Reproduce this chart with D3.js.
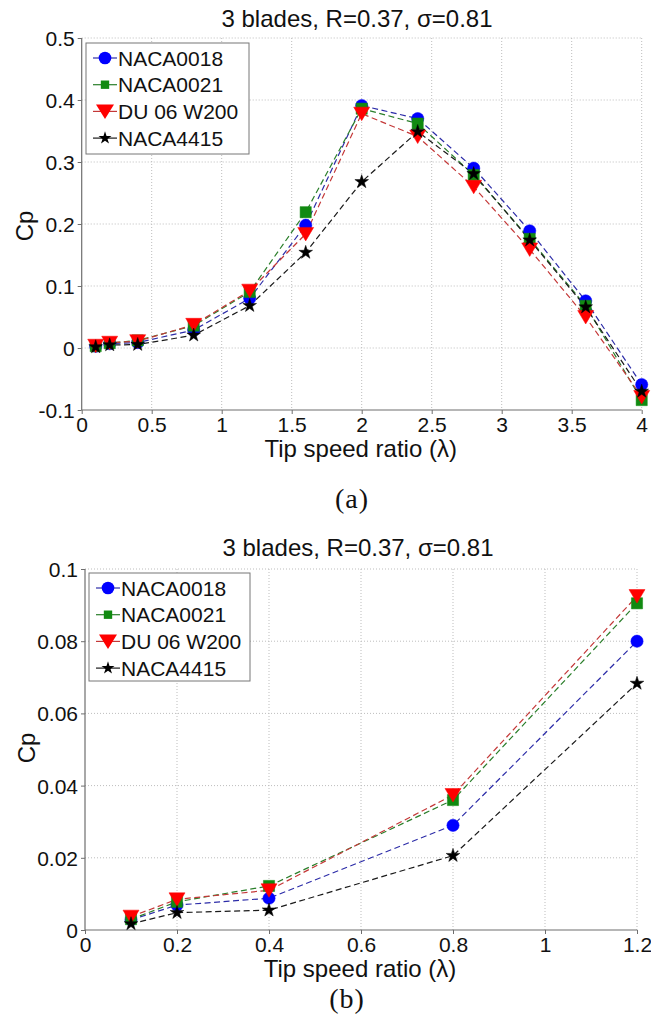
<!DOCTYPE html>
<html>
<head>
<meta charset="utf-8">
<script src="https://cdn.jsdelivr.net/npm/d3@7"></script>
<style>
  html, body { margin: 0; padding: 0; background: #fff; }
  svg { display: block; }
</style>
</head>
<body>
<svg id="chart" width="651" height="1034"></svg>
<script>
// ---- data ----
const tsr      = [0.1, 0.2, 0.4, 0.8, 1.2, 1.6, 2.0, 2.4, 2.8, 3.2, 3.6, 4.0];
const naca0018 = [0.0028, 0.0069, 0.0088, 0.029, 0.080, 0.198, 0.391, 0.370, 0.290, 0.189, 0.076, -0.059];
const naca0021 = [0.0030, 0.0078, 0.0122, 0.036, 0.0905, 0.219, 0.386, 0.362, 0.279, 0.176, 0.068, -0.084];
const du06w200 = [0.0037, 0.0085, 0.0110, 0.0374, 0.0925, 0.184, 0.378, 0.341, 0.260, 0.159, 0.050, -0.079];
const naca4415 = [0.0017, 0.0048, 0.0055, 0.0206, 0.0683, 0.154, 0.268, 0.349, 0.281, 0.174, 0.066, -0.070];

const seriesNames = ["NACA0018", "NACA0021", "DU 06 W200", "NACA4415"];
const seriesValues = [naca0018, naca0021, du06w200, naca4415];
const seriesMarkers = ["circle", "square", "triangle", "star"];
const markerColors = ["#0000ff", "#118a11", "#ff0000", "#000000"];
const lineColors = ["#2c2ca8", "#2a7e2a", "#c43838", "#1a1a1a"];

const titleText = "3 blades, R=0.37, \u03c3=0.81";
const xLabelText = "Tip speed ratio (\u03bb)";
const yLabelText = "Cp";

const xTicksA = [0, 0.5, 1, 1.5, 2, 2.5, 3, 3.5, 4];
const yTicksA = [-0.1, 0, 0.1, 0.2, 0.3, 0.4, 0.5];
const xTicksB = [0, 0.2, 0.4, 0.6, 0.8, 1, 1.2];
const yTicksB = [0, 0.02, 0.04, 0.06, 0.08, 0.1];

const SANS = "'Liberation Sans', Arial, Helvetica, sans-serif";
const SERIF = "'Liberation Serif', 'DejaVu Serif', serif";

const svg = d3.select("#chart");

function markerPath(type, legend) {
  if (type === "circle") return d3.symbol().type(d3.symbolCircle).size(legend ? 125 : 118)();
  if (type === "square") return d3.symbol().type(d3.symbolSquare).size(legend ? 70 : 125)();
  if (type === "star") return d3.symbol().type(d3.symbolStar).size(legend ? 52 : 58)();
  // downward triangle
  const w = legend ? 9 : 8, h = legend ? 7 : 6.5;
  return `M${-w},${-h}L${w},${-h}L0,${h + 0.5}Z`;
}

function drawChart(cfg) {
  const g = svg.append("g");
  const x = d3.scaleLinear().domain(cfg.xDomain).range([cfg.left, cfg.right]);
  const y = d3.scaleLinear().domain(cfg.yDomain).range([cfg.bottom, cfg.top]);

  // grid
  g.append("g").selectAll("line").data(cfg.xTicks.filter(d => d !== cfg.xDomain[0])).join("line")
    .attr("x1", d => x(d)).attr("x2", d => x(d)).attr("y1", cfg.top).attr("y2", cfg.bottom)
    .attr("stroke", "#bdbdbd").attr("stroke-width", 1).attr("stroke-dasharray", "1,2");
  g.append("g").selectAll("line").data(cfg.yTicks.filter(d => d !== cfg.yDomain[0])).join("line")
    .attr("x1", cfg.left).attr("x2", cfg.right).attr("y1", d => y(d)).attr("y2", d => y(d))
    .attr("stroke", "#bdbdbd").attr("stroke-width", 1).attr("stroke-dasharray", "1,2");

  // axes
  const xAxis = d3.axisBottom(x).tickValues(cfg.xTicks).tickSize(4).tickPadding(3)
    .tickFormat(d => cfg.xFmt(d));
  const yAxis = d3.axisLeft(y).tickValues(cfg.yTicks).tickSize(4).tickPadding(3)
    .tickFormat(d => cfg.yFmt(d));
  const gx = g.append("g").attr("transform", `translate(0,${cfg.bottom})`).call(xAxis);
  const gy = g.append("g").attr("transform", `translate(${cfg.left},0)`).call(yAxis);
  [gx, gy].forEach(a => {
    a.select(".domain").attr("stroke", "#6e6e6e").attr("stroke-width", 1.2);
    a.selectAll(".tick line").attr("stroke", "#6e6e6e");
    a.selectAll(".tick text").style("font-family", SANS)
      .style("font-size", "21px").attr("fill", "#111");
  });
  gx.select(".domain").attr("d", `M${cfg.left},0H${cfg.right}`);
  gy.select(".domain").attr("d", `M0,${cfg.bottom}V${cfg.top}`);
  gx.selectAll(".tick text").attr("dy", "0.72em");
  gy.selectAll(".tick text").attr("dy", "0.36em");

  // series
  const n = cfg.count;
  const line = d3.line().x(d => x(d[0])).y(d => y(d[1]));
  seriesValues.forEach((vals, i) => {
    const pts = tsr.slice(0, n).map((t, k) => [t, vals[k]]);
    g.append("path").datum(pts).attr("d", line).attr("fill", "none")
      .attr("stroke", lineColors[i]).attr("stroke-width", 1.2).attr("stroke-dasharray", "6,3.5");
  });
  seriesValues.forEach((vals, i) => {
    const pts = tsr.slice(0, n).map((t, k) => [t, vals[k]]);
    g.append("g").selectAll("path").data(pts).join("path")
      .attr("d", markerPath(seriesMarkers[i], false))
      .attr("transform", d => `translate(${x(d[0])},${y(d[1])})`)
      .attr("fill", markerColors[i]).attr("stroke", markerColors[i]).attr("stroke-width", 0.5);
  });

  // title and labels
  g.append("text").attr("x", cfg.titleX).attr("y", cfg.titleY).attr("text-anchor", "middle")
    .style("font-family", SANS).style("font-size", "24px").attr("fill", "#111").text(titleText);
  g.append("text").attr("x", (cfg.left + cfg.right) / 2 - 1).attr("y", cfg.xLabelY).attr("text-anchor", "middle")
    .style("font-family", SANS).style("font-size", "24px").attr("fill", "#111").text(xLabelText);
  g.append("text").attr("transform", `translate(${cfg.yLabelX},${cfg.yLabelY}) rotate(-90)`)
    .attr("text-anchor", "middle").style("font-family", SANS).style("font-size", "24px")
    .attr("fill", "#111").text(yLabelText);

  // legend
  const lg = g.append("g");
  lg.append("rect").attr("x", cfg.legX).attr("y", cfg.legY).attr("width", cfg.legW).attr("height", cfg.legH)
    .attr("fill", "#fff").attr("stroke", "#777").attr("stroke-width", 1);
  seriesNames.forEach((name, i) => {
    const cy = cfg.legY + 15 + i * 26.7;
    const cx = cfg.legX + 19;
    lg.append("line").attr("x1", cx - 12).attr("x2", cx + 12).attr("y1", cy).attr("y2", cy)
      .attr("stroke", lineColors[i]).attr("stroke-width", 1.2);
    lg.append("path").attr("d", markerPath(seriesMarkers[i], true))
      .attr("transform", `translate(${cx},${cy})`).attr("fill", markerColors[i]);
    lg.append("text").attr("x", cx + 13).attr("y", cy).attr("dy", "0.36em")
      .style("font-family", SANS).style("font-size", "21px").attr("fill", "#111").text(name);
  });

  // caption
  g.append("text").attr("x", cfg.capX).attr("y", cfg.capY).attr("text-anchor", "middle")
    .style("font-family", SERIF).style("font-size", "28px")
    .style("letter-spacing", "1px").attr("fill", "#111").text(cfg.caption);
}

const fmtA = d => d === 0 ? "0" : String(+d.toFixed(2));

drawChart({
  xDomain: [0, 4], yDomain: [-0.1, 0.5],
  left: 81.7, right: 641.7, top: 38, bottom: 410,
  xTicks: xTicksA, yTicks: yTicksA, xFmt: fmtA, yFmt: fmtA,
  count: 12,
  titleX: 357, titleY: 26.5, xLabelY: 457, yLabelX: 33, yLabelY: 226,
  legX: 86, legY: 43, legW: 163, legH: 111,
  caption: "(a)", capX: 352, capY: 508
});

drawChart({
  xDomain: [0, 1.2], yDomain: [0, 0.1],
  left: 85, right: 637, top: 569, bottom: 930,
  xTicks: xTicksB, yTicks: yTicksB, xFmt: fmtA, yFmt: fmtA,
  count: 5,
  titleX: 358, titleY: 556, xLabelY: 977, yLabelX: 35, yLabelY: 748,
  legX: 89, legY: 573, legW: 161, legH: 108,
  caption: "(b)", capX: 347, capY: 1008
});
</script>
</body>
</html>
